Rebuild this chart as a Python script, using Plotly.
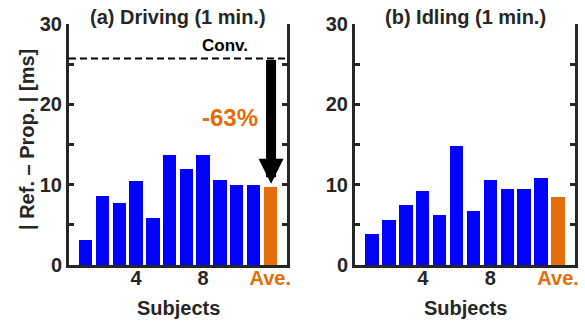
import plotly.graph_objects as go

subjects = list(range(1, 12))
driving = [3.1, 8.6, 7.7, 10.4, 5.9, 13.7, 11.9, 13.7, 10.55, 9.95, 9.95]
driving_ave = 9.65
idling = [3.8, 5.65, 7.45, 9.25, 6.2, 14.8, 6.7, 10.6, 9.45, 9.45, 10.8]
idling_ave = 8.5
conv_level = 25.7
arrow_tip = 10.1
x_tickvals = [4, 8, 12]
x_ticktext = ['4', '8', '<span style="color:#E46C0A">Ave.</span>']
y_tickvals = [0, 5, 10, 15, 20, 25, 30]
y_ticktext = ['0', '', '10', '', '20', '', '30']

BLUE = '#0000FF'
ORANGE = '#E46C0A'
DARK = '#262626'
FONT = 'Liberation Sans, Arial, sans-serif'
FS = 20

W, H = 585, 326


def px(x):
    return x / W


def py(y):
    return 1 - y / H


fig = go.Figure()
fig.add_trace(go.Bar(x=subjects, y=driving, marker=dict(color=BLUE, line=dict(width=0)), width=0.8, xaxis='x', yaxis='y'))
fig.add_trace(go.Bar(x=[12], y=[driving_ave], marker=dict(color=ORANGE, line=dict(width=0)), width=0.8, xaxis='x', yaxis='y'))
fig.add_trace(go.Bar(x=subjects, y=idling, marker=dict(color=BLUE, line=dict(width=0)), width=0.8, xaxis='x2', yaxis='y2'))
fig.add_trace(go.Bar(x=[12], y=[idling_ave], marker=dict(color=ORANGE, line=dict(width=0)), width=0.8, xaxis='x2', yaxis='y2'))

tickfont = dict(family=FONT, size=FS, color=DARK, weight='bold')
xcommon = dict(range=[0, 13], tickvals=x_tickvals, ticktext=x_ticktext, ticks='', showline=True,
               linecolor=DARK, linewidth=3, showgrid=False, zeroline=False, tickfont=tickfont,
               automargin=False, ticklabelstandoff=-7)
ycommon = dict(range=[0, 30], tickvals=y_tickvals, ticktext=y_ticktext, ticks='inside', ticklen=5,
               tickwidth=3, tickcolor=DARK, showline=True, linecolor=DARK, linewidth=3,
               mirror='ticks', showgrid=False, zeroline=False, tickfont=tickfont, automargin=False)

ydom = [py(265), py(24)]
fig.update_layout(
    width=W, height=H, margin=dict(l=0, r=0, t=0, b=0),
    paper_bgcolor='white', plot_bgcolor='white', showlegend=False, bargap=0,
    xaxis=dict(domain=[px(69), px(287)], anchor='y', **xcommon),
    yaxis=dict(domain=ydom, anchor='x', **ycommon),
    xaxis2=dict(domain=[px(355), px(575)], anchor='y2', **xcommon),
    yaxis2=dict(domain=ydom, anchor='x2', **ycommon),
)

fig.add_shape(type='line', xref='x domain', yref='y', x0=0, x1=1, y0=conv_level, y1=conv_level,
              line=dict(color='black', width=2, dash='7px,4px'))

fig.add_annotation(x=12.05, y=arrow_tip, ax=12.05, ay=conv_level, xref='x', yref='y', axref='x', ayref='y',
                   showarrow=True, arrowhead=2, arrowsize=0.5, arrowwidth=10, arrowcolor='black',
                   standoff=0, startstandoff=0, text='')
fig.add_annotation(x=9.33, y=27.3, xref='x', yref='y', text='Conv.', showarrow=False,
                   font=dict(family=FONT, size=17, color='black', weight='bold'))
fig.add_annotation(x=9.6, y=18.4, xref='x', yref='y', text='-63%', showarrow=False,
                   font=dict(family=FONT, size=24, color=ORANGE, weight='bold'))

titlefont = dict(family=FONT, size=FS, color=DARK, weight='bold')
fig.add_annotation(x=0.5, y=py(17), xref='x domain', yref='paper', yanchor='middle', text='(a) Driving (1 min.)',
                   showarrow=False, font=titlefont, borderpad=0)
fig.add_annotation(x=0.5, y=py(17), xref='x2 domain', yref='paper', yanchor='middle', text='(b) Idling (1 min.)',
                   showarrow=False, font=titlefont, borderpad=0)
fig.add_annotation(x=0.5, y=py(308), xref='x domain', yref='paper', yanchor='middle', text='Subjects',
                   showarrow=False, font=titlefont)
fig.add_annotation(x=0.5, y=py(308), xref='x2 domain', yref='paper', yanchor='middle', text='Subjects',
                   showarrow=False, font=titlefont)
fig.add_annotation(x=px(27), y=py(140), xref='paper', yref='paper', xanchor='center', yanchor='middle',
                   text='| Ref. – Prop. | [ms]', textangle=-90, showarrow=False, font=titlefont)

fig.write_html('out.html', config={'displayModeBar': False},
               post_script="document.body.style.margin='0';document.body.style.padding='0';")
